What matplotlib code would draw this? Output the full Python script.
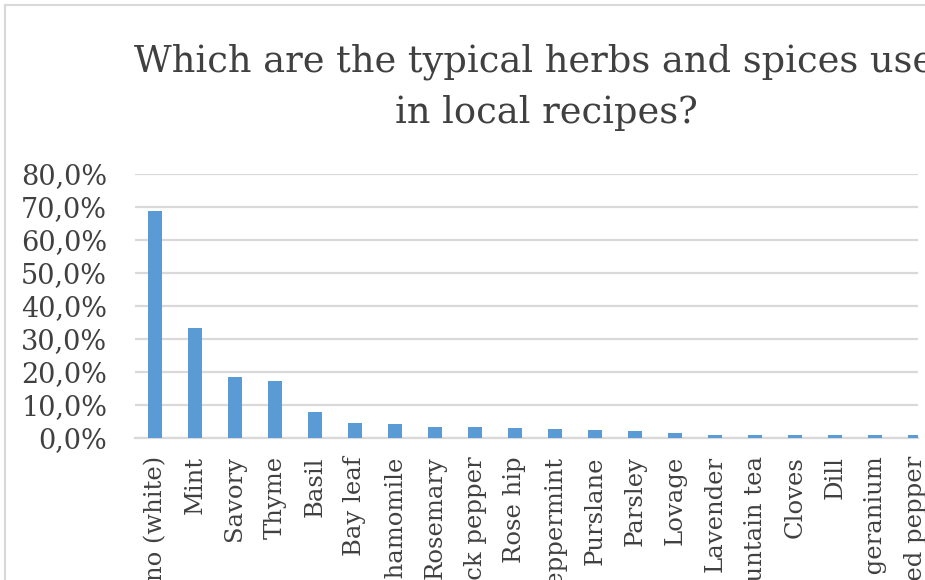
import matplotlib.pyplot as plt
import numpy as np

# Datos del grafico (porcentaje de respuestas)
hierbas = ['Oregano (white)', 'Mint', 'Savory', 'Thyme', 'Basil', 'Bay leaf',
           'Chamomile', 'Rosemary', 'Black pepper', 'Rose hip', 'Peppermint',
           'Purslane', 'Parsley', 'Lovage', 'Lavender', 'Mountain tea',
           'Cloves', 'Dill', 'Rose geranium', 'Red pepper']
porcentajes = [68.8, 33.3, 18.5, 17.3, 7.8, 4.5, 4.2, 3.2, 3.2, 2.9, 2.6,
               2.3, 2.0, 1.4, 0.9, 0.9, 0.9, 0.9, 0.9, 0.9]
ticks_y = [0, 10, 20, 30, 40, 50, 60, 70, 80]
titulo = ['Which are the typical herbs and spices used', 'in local recipes?']

W, H = 925, 580
gris = '#404040'
fuente = 'DejaVu Serif'

fig = plt.figure(figsize=(W / 100, H / 100), dpi=100)

# Area del grafico en pixeles (izq, arriba, der, abajo)
izq, der, arriba, abajo = 135, 918, 174, 438
ax = fig.add_axes([izq / W, 1 - abajo / H, (der - izq) / W, (abajo - arriba) / H])

x = np.arange(len(hierbas))
ax.bar(x, porcentajes, width=0.33, color='#5B9BD5', zorder=3)

ax.set_ylim(0, 80)
ax.set_xlim(-0.5, 19.075)
ax.set_yticks(ticks_y)
ax.set_yticklabels(['%d,0%%' % t for t in ticks_y], fontsize=19.5,
                   family=fuente, color=gris)
ax.set_xticks(x)
ax.set_xticklabels(hierbas, rotation=90, fontsize=17.5, family=fuente,
                   color=gris, va='top', ha='center')
ax.tick_params(axis='both', length=0)
ax.tick_params(axis='y', pad=20)
ax.tick_params(axis='x', pad=13)

ax.grid(axis='y', color='#D9D9D9', linewidth=1.6, zorder=0)
for lado in ['top', 'right', 'left']:
    ax.spines[lado].set_visible(False)
ax.spines['bottom'].set_color('#D9D9D9')
ax.spines['bottom'].set_linewidth(1.6)

# Titulo (cortado por el borde derecho, como en la imagen)
fig.text(546 / W, 1 - 72 / H, titulo[0], ha='center', va='baseline',
         fontsize=26.5, family=fuente, color=gris)
fig.text(546 / W, 1 - 123 / H, titulo[1], ha='center', va='baseline',
         fontsize=26.5, family=fuente, color=gris)

# Borde del grafico
fig.add_artist(plt.Line2D([5 / W, 5 / W], [0, 1 - 5 / H], transform=fig.transFigure,
                          color='#D9D9D9', linewidth=1.5))
fig.add_artist(plt.Line2D([5 / W, 1], [1 - 5 / H, 1 - 5 / H], transform=fig.transFigure,
                          color='#D9D9D9', linewidth=1.5))

fig.savefig('out.png', dpi=100)
